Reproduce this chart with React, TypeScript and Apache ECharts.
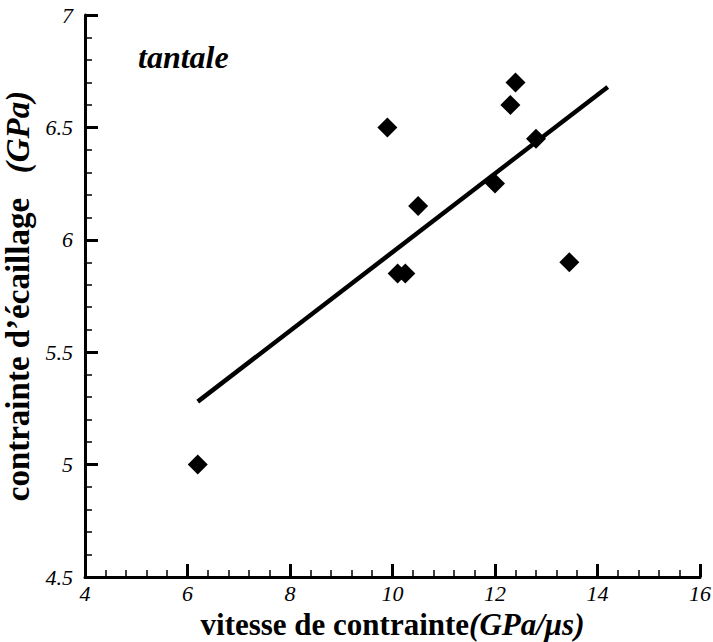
import React, { useEffect, useRef } from "react";
import * as echarts from "echarts";

const strainRate = [6.2, 9.9, 10.1, 10.25, 10.5, 12.0, 12.3, 12.4, 12.8, 13.45];
const spallStress = [5.0, 6.5, 5.85, 5.85, 6.15, 6.25, 6.6, 6.7, 6.45, 5.9];
const fitX = [6.2, 14.2];
const fitY = [5.28, 6.68];

const FONT = "Liberation Serif";

export default function App() {
  const ref = useRef<HTMLDivElement>(null);
  useEffect(() => {
    if (!ref.current) return;
    const chart = echarts.init(ref.current, null, { renderer: "svg" });
    const axisCommon = {
      axisLine: { show: true, lineStyle: { color: "#000", width: 3 } },
      axisTick: { show: true, inside: true, length: 13, lineStyle: { color: "#000", width: 3 } },
      minorTick: { show: true, splitNumber: 5, length: 7, lineStyle: { color: "#000", width: 1.5 } },
      splitLine: { show: false },
      minorSplitLine: { show: false },
    };
    const richX = {
      b: { fontFamily: FONT, fontWeight: "bold", fontSize: 31, color: "#000" },
      bi: { fontFamily: FONT, fontWeight: "bold", fontStyle: "italic", fontSize: 31, color: "#000" },
    };
    const richY = {
      b: { fontFamily: FONT, fontWeight: "bold", fontSize: 33, lineHeight: 34, color: "#000" },
      bi: { fontFamily: FONT, fontWeight: "bold", fontStyle: "italic", fontSize: 33, lineHeight: 34, color: "#000" },
    };
    chart.setOption({
      animation: false,
      backgroundColor: "#fff",
      textStyle: { fontFamily: FONT },
      grid: { left: 85, top: 15, width: 615, height: 562, containLabel: false, outerBoundsMode: "none" },
      xAxis: {
        type: "value",
        min: 4,
        max: 16,
        interval: 2,
        ...axisCommon,
        axisLabel: { color: "#000", fontFamily: FONT, fontStyle: "italic", fontSize: 22, margin: 5 },
        name: "{b|vitesse de contrainte}{bi|(GPa/μs)}",
        nameLocation: "middle",
        nameGap: 30,
        nameTextStyle: { fontFamily: FONT, rich: richX },
      },
      yAxis: {
        type: "value",
        min: 4.5,
        max: 7,
        interval: 0.5,
        ...axisCommon,
        axisLabel: { color: "#000", fontFamily: FONT, fontStyle: "italic", fontSize: 22, margin: 12 },
        name: "{b|contrainte d’écaillage   }{bi|(GPa)}",
        nameLocation: "middle",
        nameRotate: 90,
        nameGap: 37,
        nameTextStyle: { fontFamily: FONT, lineHeight: 34, rich: richY },
      },
      graphic: [
        {
          type: "text",
          left: 138,
          top: 41,
          style: {
            text: "tantale",
            fontFamily: FONT,
            fontWeight: "bold",
            fontStyle: "italic",
            fontSize: 32,
            fill: "#000",
          },
        },
      ],
      series: [
        {
          type: "line",
          data: fitX.map((x, i) => [x, fitY[i]]),
          showSymbol: false,
          symbol: "none",
          lineStyle: { color: "#000", width: 4.5 },
          z: 2,
        },
        {
          type: "scatter",
          data: strainRate.map((x, i) => [x, spallStress[i]]),
          symbol: "diamond",
          symbolSize: 20,
          itemStyle: { color: "#000", opacity: 1 },
          z: 3,
        },
      ],
    });
    return () => chart.dispose();
  }, []);
  return (
    <div
      ref={ref}
      style={{ position: "absolute", left: 0, top: 0, width: 713, height: 642, background: "#fff" }}
    />
  );
}
